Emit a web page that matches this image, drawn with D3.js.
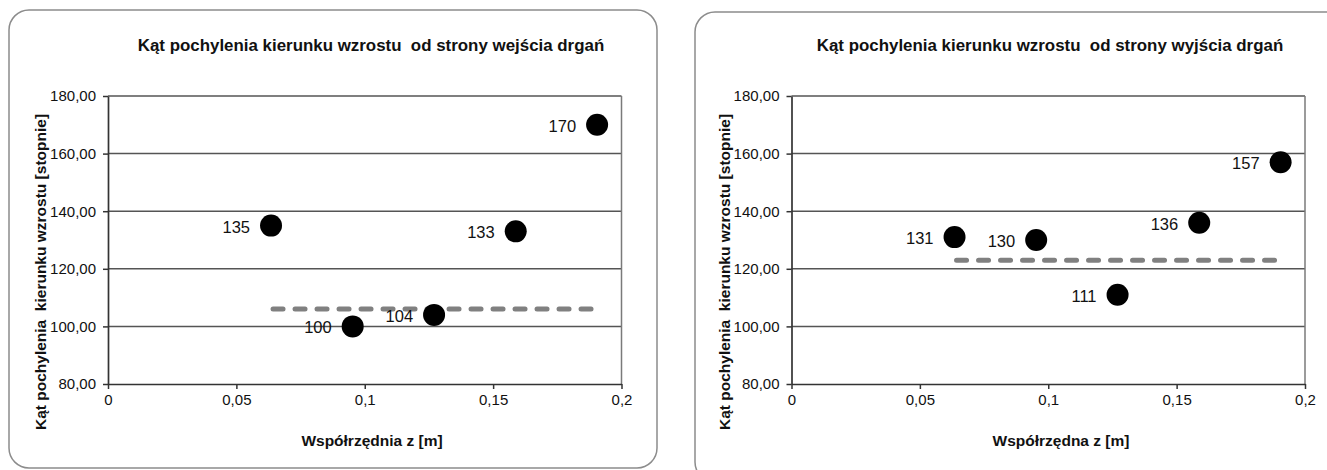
<!DOCTYPE html>
<html>
<head>
<meta charset="utf-8">
<script src="https://cdn.jsdelivr.net/npm/d3@7"></script>
<style>
  html, body { margin: 0; padding: 0; background: #fff; }
  svg { display: block; font-family: "Liberation Sans", Arial, sans-serif; }
</style>
</head>
<body>
<svg id="chart" width="1327" height="470"></svg>
<script>
// Data
const zPositions   = [0.0635, 0.0953, 0.127, 0.1588, 0.1905];
const inletAngles  = [135, 100, 104, 133, 170];
const outletAngles = [131, 130, 111, 136, 157];
const trendLevels  = [106, 123];            // dashed reference line, inlet / outlet
const xTicks = [0, 0.05, 0.1, 0.15, 0.2];
const yTicks = [80, 100, 120, 140, 160, 180];
const titles = [
  "Kąt pochylenia kierunku wzrostu  od strony wejścia drgań",
  "Kąt pochylenia kierunku wzrostu  od strony wyjścia drgań"
];
const xTitles = ["Współrzędnia z [m]", "Współrzędna z [m]"];
const yTitle = "Kąt pochylenia  kierunku wzrostu [stopnie]";

const svg = d3.select("#chart");

const fmtX = d => String(d).replace(".", ",");
const fmtY = d => d.toFixed(2).replace(".", ",");

// panel layout
const panels = [
  { box: [9, 10, 648, 458], plot: [108, 96, 621.5, 384], yTitleX: 40, titleX: 371, xTitleX: 372,
    values: inletAngles, trend: trendLevels[0], title: titles[0], xTitle: xTitles[0] },
  { box: [695, 12, 660, 470], plot: [791.5, 96, 1305, 384], yTitleX: 724, titleX: 1050, xTitleX: 1061,
    values: outletAngles, trend: trendLevels[1], title: titles[1], xTitle: xTitles[1] }
];

panels.forEach(p => {
  const [x0, y0, x1, y1] = p.plot;
  const x = d3.scaleLinear().domain([0, 0.2]).range([x0, x1]);
  const y = d3.scaleLinear().domain([80, 180]).range([y1, y0]);

  // outer rounded frame
  svg.append("rect")
    .attr("x", p.box[0]).attr("y", p.box[1])
    .attr("width", p.box[2]).attr("height", p.box[3])
    .attr("rx", 20).attr("ry", 20)
    .attr("fill", "none")
    .attr("stroke", "#8c8c8c")
    .attr("stroke-width", 1.5);

  const g = svg.append("g");

  // horizontal gridlines
  g.selectAll(".grid")
    .data(yTicks.filter(v => v > 80))
    .join("line")
    .attr("x1", x0).attr("x2", x1)
    .attr("y1", d => y(d)).attr("y2", d => y(d))
    .attr("stroke", "#555")
    .attr("stroke-width", 1.5);

  // right frame edge
  g.append("line")
    .attr("x1", x1).attr("x2", x1)
    .attr("y1", y0).attr("y2", y1)
    .attr("stroke", "#7a7a7a")
    .attr("stroke-width", 1.5);

  // axes
  const xAxis = g.append("g")
    .attr("transform", `translate(0,${y1})`)
    .call(d3.axisBottom(x).tickValues(xTicks).tickFormat(fmtX).tickSize(5).tickSizeOuter(0).tickPadding(5));
  const yAxis = g.append("g")
    .attr("transform", `translate(${x0},0)`)
    .call(d3.axisLeft(y).tickValues(yTicks).tickFormat(fmtY).tickSize(5).tickSizeOuter(0).tickPadding(7));

  [xAxis, yAxis].forEach(a => {
    a.select(".domain").attr("stroke", "#333").attr("stroke-width", 1.7);
    a.selectAll(".tick line").attr("stroke", "#333").attr("stroke-width", 1.5);
    a.selectAll(".tick text")
      .attr("font-size", 15)
      .attr("font-family", "Liberation Sans, Arial, sans-serif")
      .attr("fill", "#111");
  });

  // dashed trend line spanning the measured range
  const [zMin, zMax] = d3.extent(zPositions);
  g.append("line")
    .attr("x1", x(zMin) + 2).attr("x2", x(zMax))
    .attr("y1", y(p.trend)).attr("y2", y(p.trend))
    .attr("stroke", "#808080")
    .attr("stroke-width", 5)
    .attr("stroke-linecap", "round")
    .attr("stroke-dasharray", "10 12");

  // points
  const pts = zPositions.map((z, i) => ({ z, v: p.values[i] }));
  g.selectAll(".pt")
    .data(pts)
    .join("circle")
    .attr("cx", d => x(d.z))
    .attr("cy", d => y(d.v))
    .attr("r", 11)
    .attr("fill", "#000");

  g.selectAll(".lbl")
    .data(pts)
    .join("text")
    .attr("x", d => x(d.z) - 21)
    .attr("y", d => y(d.v) + 1)
    .attr("text-anchor", "end")
    .attr("dominant-baseline", "central")
    .attr("font-size", 16.5)
    .attr("fill", "#111")
    .text(d => d.v);

  // titles
  svg.append("text")
    .attr("x", p.titleX).attr("y", 51)
    .attr("text-anchor", "middle")
    .attr("font-size", 16.9)
    .attr("font-weight", "bold")
    .attr("fill", "#111")
    .style("white-space", "pre")
    .text(p.title);

  svg.append("text")
    .attr("x", p.xTitleX).attr("y", 446)
    .attr("text-anchor", "middle")
    .attr("font-size", 15.5)
    .attr("font-weight", "bold")
    .attr("fill", "#111")
    .text(p.xTitle);

  svg.append("text")
    .attr("transform", `translate(${p.yTitleX + 5.5},272) rotate(-90)`)
    .attr("text-anchor", "middle")
    .attr("font-size", 15.5)
    .attr("font-weight", "bold")
    .attr("fill", "#111")
    .style("white-space", "pre")
    .text(yTitle);
});
</script>
</body>
</html>
